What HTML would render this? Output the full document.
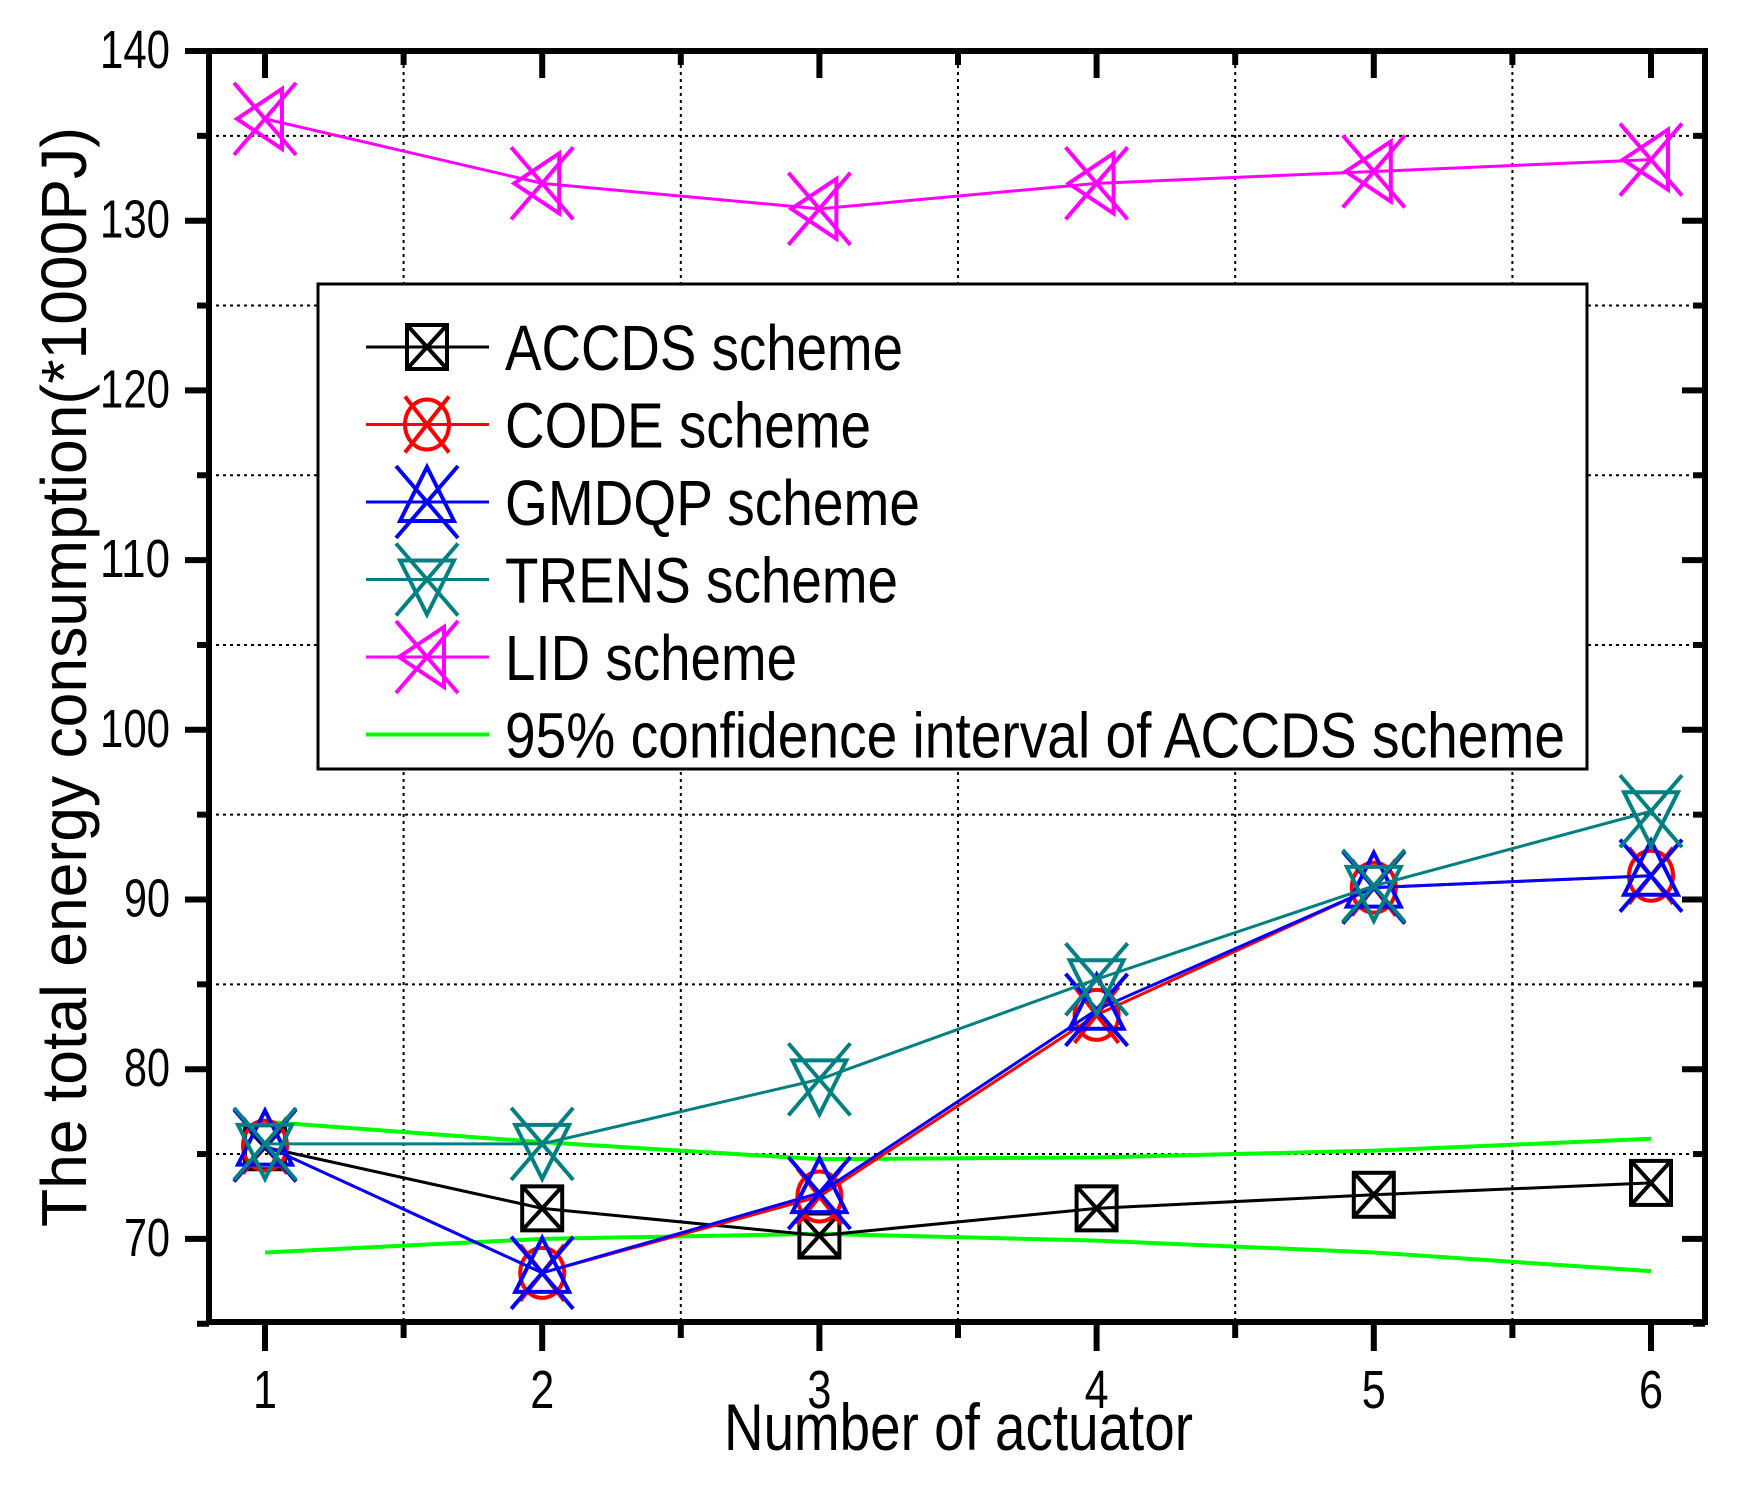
<!DOCTYPE html>
<html><head><meta charset="utf-8"><style>
html,body{margin:0;padding:0;background:#fff;}
svg{display:block;font-family:"Liberation Sans",sans-serif;}
</style></head><body>
<svg id="chart" width="1746" height="1489" viewBox="0 0 1746 1489" xmlns="http://www.w3.org/2000/svg">
<g id="grid"></g>
<g id="series"></g>
<g id="axes"></g>
<text transform="translate(86,1227) rotate(-90)" font-size="64" textLength="1100" lengthAdjust="spacingAndGlyphs">The total energy consumption(*1000PJ)</text>
<text x="724" y="1450" font-size="66" textLength="469" lengthAdjust="spacingAndGlyphs">Number of actuator</text>
<g id="legend">
<rect x="318" y="284" width="1269" height="485" fill="#fff" stroke="#000" stroke-width="3"/>
</g>
</svg>
<script>
const categories=[1,2,3,4,5,6];
const accds=[75.4,71.8,70.2,71.8,72.6,73.3];
const code=[75.5,68.0,72.5,83.2,90.7,91.4];
const gmdqp=[75.5,68.0,72.7,83.5,90.7,91.4];
const trens=[75.6,75.6,79.4,85.3,90.8,95.2];
const lid=[136.0,132.2,130.7,132.2,132.9,133.6];
const ciUpper=[76.9,75.7,74.7,74.8,75.2,75.9];
const ciLower=[69.2,70.0,70.3,69.9,69.2,68.1];
const yTicks=[70,80,90,100,110,120,130,140];
const xTicks=[1,2,3,4,5,6];
const legendLabels=["ACCDS scheme","CODE scheme","GMDQP scheme","TRENS scheme","LID scheme","95% confidence interval of ACCDS scheme"];

const NS="http://www.w3.org/2000/svg";
const L=209,R=1705,T=51,B=1322;
function X(v){return 265+(v-1)*277.2;}
function Y(v){return 51+(140-v)*16.97;}
function mk(tag,attrs,parent){const e=document.createElementNS(NS,tag);for(const k in attrs)e.setAttribute(k,attrs[k]);parent.appendChild(e);return e;}
const grid=document.getElementById('grid'),ser=document.getElementById('series'),axes=document.getElementById('axes'),leg=document.getElementById('legend');

for(let v=75;v<140;v+=10){const g=mk('line',{x1:L,x2:R,y1:Y(v),y2:Y(v),stroke:'#000','stroke-width':2,'stroke-dasharray':'3,4'},grid);

}
for(let v=1.5;v<6.2;v+=1){const g=mk('line',{x1:X(v),x2:X(v),y1:T,y2:B,stroke:'#000','stroke-width':2,'stroke-dasharray':'3,4'},grid);

}

function marker(type,cx,cy,color,parent){
  const g=mk('g',{fill:'none',stroke:color,'stroke-width':4},parent);
  const cross=()=>{mk('path',{d:`M${cx-31},${cy-36}L${cx+31},${cy+36}M${cx+31},${cy-36}L${cx-31},${cy+36}`},g);};
  if(type==='square'){mk('rect',{x:cx-20,y:cy-22,width:40,height:44},g);mk('path',{d:`M${cx-20},${cy-22}L${cx+20},${cy+22}M${cx+20},${cy-22}L${cx-20},${cy+22}`},g);}
  if(type==='circle'){mk('ellipse',{cx:cx,cy:cy,rx:22,ry:25},g);mk('path',{d:`M${cx-22},${cy-28}L${cx+22},${cy+28}M${cx+22},${cy-28}L${cx-22},${cy+28}`},g);}
  if(type==='up'){mk('path',{d:`M${cx},${cy-35}L${cx+27},${cy+19}L${cx-27},${cy+19}Z`},g);cross();}
  if(type==='down'){mk('path',{d:`M${cx},${cy+35}L${cx+27},${cy-19}L${cx-27},${cy-19}Z`},g);cross();}
  if(type==='left'){mk('path',{d:`M${cx-28},${cy}L${cx+17},${cy-30}L${cx+17},${cy+30}Z`},g);cross();}
  return g;
}

function curve(vals,color,w,name){
  const p=mk('polyline',{points:vals.map((v,i)=>X(categories[i])+','+Y(v)).join(' '),fill:'none',stroke:color,'stroke-width':w},ser);
  
  
}
curve(ciUpper,'#00ff00',4,'ci-upper-line');
curve(ciLower,'#00ff00',4,'ci-lower-line');
const defs=[[accds,'#000','square','accds'],[code,'#ff0000','circle','code'],[gmdqp,'#0000ff','up','gmdqp'],[trens,'#008080','down','trens'],[lid,'#ff00ff','left','lid']];
defs.forEach(d=>{
  curve(d[0],d[1],3,d[3]+'-line');
  d[0].forEach((v,i)=>{const m=marker(d[2],X(categories[i]),Y(v),d[1],ser);
    
    });
});

const fr=mk('rect',{x:L,y:T,width:R-L,height:B-T,fill:'none',stroke:'#000','stroke-width':6},axes);


for(let v=65;v<=140;v+=5){const major=v%10===0;const y=Y(v);
  mk('line',{x1:L-(major?24:12),x2:L,y1:y,y2:y,stroke:'#000','stroke-width':6},axes);
  mk('line',{x1:R-(major?23:12),x2:R,y1:y,y2:y,stroke:'#000','stroke-width':6},axes);}
for(let v=1;v<=6.2;v+=0.5){const major=Number.isInteger(v);const x=X(v);
  mk('line',{x1:x,x2:x,y1:B,y2:B+(major?29:16),stroke:'#000','stroke-width':6},axes);
  mk('line',{x1:x,x2:x,y1:T,y2:T+(major?27:14),stroke:'#000','stroke-width':6},axes);}
yTicks.forEach(v=>{const t=mk('text',{x:170,y:Y(v)+17,'font-size':54,'text-anchor':'end',textLength:(v>=100?70:46),lengthAdjust:'spacingAndGlyphs'},axes);t.textContent=v;
  
  });
xTicks.forEach(v=>{const t=mk('text',{x:X(v)-12,y:1408,'font-size':54,textLength:24,lengthAdjust:'spacingAndGlyphs'},axes);t.textContent=v;
  
  });

const lcolors=['#000','#ff0000','#0000ff','#008080','#ff00ff','#00ff00'];
const ltypes=['square','circle','up','down','left',null];
const lwidths=[398,366,415,393,292,1060];
legendLabels.forEach((s,i)=>{const y=347+i*77.5;
  const ln=mk('line',{x1:366,x2:489,y1:y,y2:y,stroke:lcolors[i],'stroke-width':i===5?4:3},leg);
  
  
  if(ltypes[i])marker(ltypes[i],427,y,lcolors[i],leg);
  const t=mk('text',{x:505,y:y+23,'font-size':64,textLength:lwidths[i],lengthAdjust:'spacingAndGlyphs'},leg);t.textContent=s;
  
  
});
</script>
</body></html>
